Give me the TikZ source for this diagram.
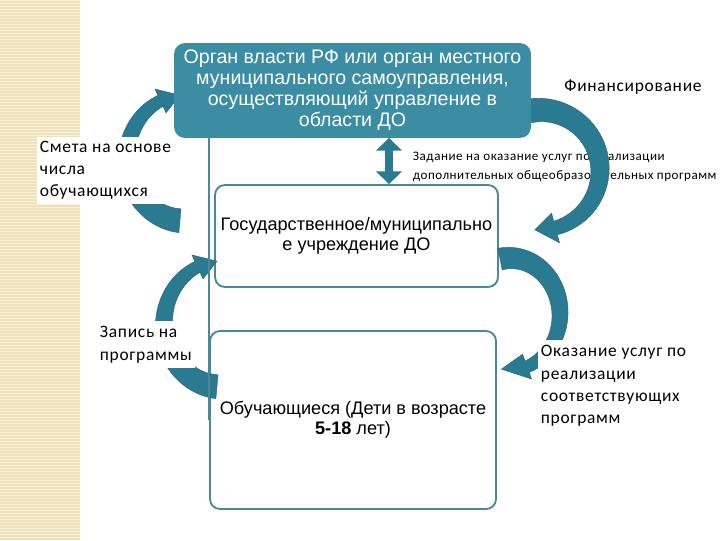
\documentclass[tikz,border=0pt]{standalone}
\usepackage{fontspec}
\setmainfont{Liberation Sans}
\newfontfamily\labelfont[LetterSpace=4]{Carlito}
\usepackage{tikz}
\usetikzlibrary{arrows.meta, positioning, calc}
\definecolor{doteal}{RGB}{58,141,163}
\definecolor{doarrow}{RGB}{42,123,145}
\definecolor{doedge}{RGB}{74,138,152}
\definecolor{dobeige}{RGB}{239,225,185}
\definecolor{dobeigelight}{RGB}{249,242,220}

% tapered curved arrow: cx, cy, rx, ry, tail angle, head angle, tip angle, tail width, neck width
\newcommand{\bentarrow}[9]{%
  \fill[bent]
    plot[domain=#5:#6, samples=40]
      ({#1+(#3+(#8+(#9-#8)*(\x-(#5))/(#6-(#5)))/2)*cos(\x)},
       {#2+(#4+(#8+(#9-#8)*(\x-(#5))/(#6-(#5)))/2)*sin(\x)})
    -- ({#1+(#3+1.1*#9)*cos(#6)}, {#2+(#4+1.1*#9)*sin(#6)})
    -- ({#1+#3*cos(#7)}, {#2+#4*sin(#7)})
    -- ({#1+(#3-1.1*#9)*cos(#6)}, {#2+(#4-1.1*#9)*sin(#6)})
    -- plot[domain=#6:#5, samples=40]
      ({#1+(#3-(#8+(#9-#8)*(\x-(#5))/(#6-(#5)))/2)*cos(\x)},
       {#2+(#4-(#8+(#9-#8)*(\x-(#5))/(#6-(#5)))/2)*sin(\x)})
    -- cycle;}

\begin{document}
\begin{tikzpicture}[
  x=0.75pt, y=-0.75pt,
  box/.style={
    rectangle, rounded corners=7.5pt,
    draw=doedge, line width=1.4pt, fill=white,
    align=center, inner sep=2pt,
    font=\fontsize{13.6}{15}\selectfont
  },
  topbox/.style={box, fill=doteal, draw=doteal, text=white,
    font=\fontsize{14.7}{15.75}\selectfont},
  lbl/.style={align=left, inner sep=2pt,
    font=\labelfont\fontsize{13.1}{16.6}\selectfont},
  bent/.style={fill=doarrow, draw=doarrow!80!black, line width=0.3pt}
]
  \useasboundingbox (0,0) rectangle (720,540);

  % Striped margin
  \fill[dobeige] (0,0) rectangle (80,540);
  \foreach \k in {0,3,...,537}
    \draw[dobeigelight, line width=0.75pt] (0,\k) -- (80,\k);

  % Boxes
  \node[box, minimum width=212.25pt, minimum height=76.5pt]
        (inst) at (356.5,236) {Государственное/муниципально\\е учреждение ДО};
  \node[box, minimum width=214.5pt, minimum height=133.5pt]
        (pupil) at (353,420) {Обучающиеся (Дети в возрасте\\\textbf{5-18} лет)};

  % Plain labels
  \node[lbl, anchor=west, font=\labelfont\fontsize{9.8}{14.25}\selectfont]
        (task) at (410,166.5) {Задание на оказание услуг по реализации\\дополнительных общеобразовательных программ};
  \node[lbl] (money) at (633,87) {Финансирование};

  % Curved arrows
  \bentarrow{185}{158}{58}{63}{95}{245}{265}{24}{12}
  \bentarrow{222}{324}{58}{63}{95}{245}{265}{24}{12}
  \bentarrow{540}{170}{60}{60}{-100}{75}{95}{24}{14}
  \bentarrow{510}{314}{50}{56}{-101.5}{70}{100}{22}{12}

  \node[topbox, minimum width=266.25pt, minimum height=69.75pt]
        (gov) at (352.5,90.5) {Орган власти РФ или орган местного\\муниципального самоуправления,\\осуществляющий управление в\\области ДО};

  \draw[doedge, line width=1.4pt] (gov.south -| pupil.west) -- (pupil.west);

  % Labels over the arrows
  \node[lbl, fill=white, anchor=north west, inner ysep=3pt]
        (budget) at (37,137) {Смета на основе\\числа\\обучающихся};
  \node[lbl, fill=white, anchor=north west, inner ysep=4pt]
        (enrol) at (97,321) {Запись на\\программы};
  \node[lbl, fill=white, anchor=north west, inner ysep=4pt]
        (serve) at (538,340) {Оказание услуг по\\реализации\\соответствующих\\программ};

  % Two-way link
  \draw[doarrow, line width=6pt,
        {Triangle[length=9.5pt,width=19pt]}-{Triangle[length=9.5pt,width=19pt]}]
    (gov.south -| 389,0) -- (inst.north -| 389,0);
\end{tikzpicture}
\end{document}
